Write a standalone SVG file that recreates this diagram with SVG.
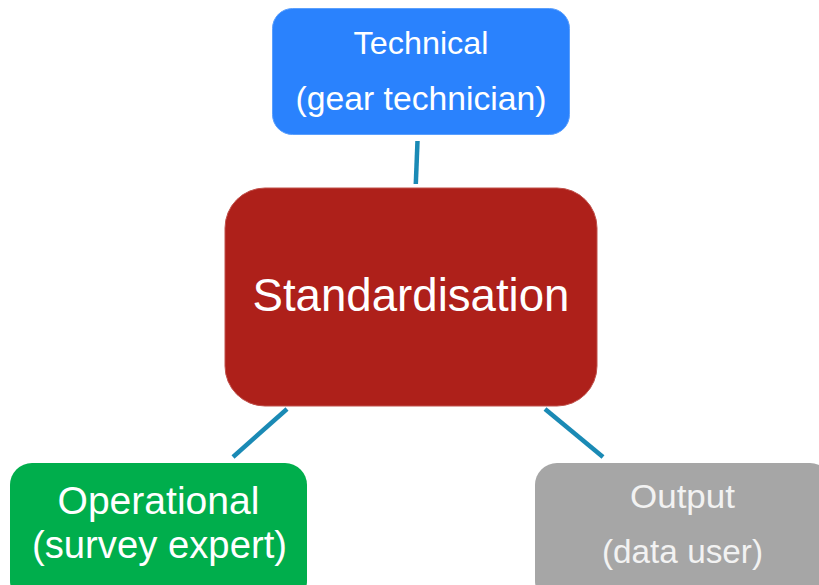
<svg xmlns="http://www.w3.org/2000/svg" width="819" height="585" viewBox="0 0 819 585">
  <style>
    .lbl { font-family: "Liberation Sans", Arial, sans-serif; fill: #ffffff; text-anchor: middle; }
    .conn { stroke: #1a8ab5; stroke-width: 4.5; fill: none; }
  </style>
  <rect width="819" height="585" fill="#ffffff"/>
  <g id="connectors">
    <line class="conn" x1="417.5" y1="141" x2="415.8" y2="184"/>
    <line class="conn" x1="287" y1="409" x2="233" y2="457"/>
    <line class="conn" x1="545" y1="409" x2="603" y2="457"/>
  </g>
  <g id="technical">
    <rect x="272.5" y="8.5" width="297" height="126" rx="20" fill="#2a82fd" stroke="#5a9ffd" stroke-width="1"/>
    <text class="lbl" x="421" y="54" font-size="32" textLength="135" lengthAdjust="spacingAndGlyphs">Technical</text>
    <text class="lbl" x="421" y="110" font-size="33" textLength="251" lengthAdjust="spacingAndGlyphs">(gear technician)</text>
  </g>
  <g id="standardisation">
    <rect x="225" y="188" width="372" height="218" rx="40" fill="#ae201a" stroke="#c0504a" stroke-width="1"/>
    <text class="lbl" x="411" y="311" font-size="46" textLength="317" lengthAdjust="spacingAndGlyphs">Standardisation</text>
  </g>
  <g id="operational">
    <rect x="10" y="463" width="297" height="140" rx="22" fill="#00ae4c"/>
    <text class="lbl" x="158.5" y="514" font-size="38" textLength="202" lengthAdjust="spacingAndGlyphs">Operational</text>
    <text class="lbl" x="159.5" y="558" font-size="38" textLength="255" lengthAdjust="spacingAndGlyphs">(survey expert)</text>
  </g>
  <g id="output">
    <rect x="535" y="463" width="297" height="140" rx="22" fill="#a6a6a6"/>
    <text class="lbl" x="682.5" y="508" font-size="34" fill="#f2f2f2" style="fill:#f2f2f2" textLength="105" lengthAdjust="spacingAndGlyphs">Output</text>
    <text class="lbl" x="682.5" y="563" font-size="34" style="fill:#f2f2f2" textLength="161" lengthAdjust="spacingAndGlyphs">(data user)</text>
  </g>
</svg>
